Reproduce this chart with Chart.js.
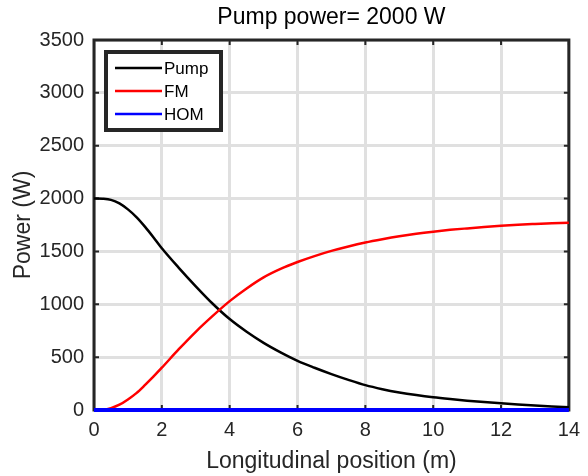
<!DOCTYPE html>
<html>
<head>
<meta charset="utf-8">
<script src="https://cdn.jsdelivr.net/npm/chart.js@4.4.0/dist/chart.umd.min.js"></script>
<style>
  html, body { margin: 0; padding: 0; background: #fff; }
  #wrap { width: 588px; height: 476px; position: relative; }
</style>
</head>
<body>
<div id="wrap"><canvas id="grafico"></canvas></div>
<script>
// posicao longitudinal (m)
var posicao = [0, 0.25, 0.5, 0.75, 1, 1.25, 1.5, 1.75, 2, 2.5, 3, 3.5, 4, 4.5, 5, 5.5, 6, 6.5, 7, 7.5, 8, 8.5, 9, 9.5, 10, 10.5, 11, 11.5, 12, 12.5, 13, 13.5, 14];
var pump = [2000, 1998, 1988, 1955, 1898, 1825, 1735, 1635, 1530, 1345, 1170, 1005, 860, 740, 635, 545, 465, 400, 340, 285, 235, 197, 166, 141, 120, 103, 88, 75, 63, 52, 42, 33, 25];
var fm = [0, 3, 18, 50, 100, 160, 235, 315, 400, 575, 740, 890, 1030, 1150, 1255, 1335, 1400, 1456, 1505, 1547, 1584, 1615, 1643, 1667, 1687, 1704, 1718, 1731, 1743, 1753, 1760, 1766, 1772];
var hom = [0, 0, 0, 0, 0, 0, 0, 0, 0, 0, 0, 0, 0, 0, 0, 0, 0, 0, 0, 0, 0, 0, 0, 0, 0, 0, 0, 0, 0, 0, 0, 0, 0];
var nomes = ["Pump", "FM", "HOM"];
var cores = ["#000000", "#ff0000", "#0000ff"];
var titulo = "Pump power= 2000 W";

function pontos(ys) {
  var out = [];
  for (var i = 0; i < posicao.length; i++) {
    out.push({ x: posicao[i], y: ys[i] });
  }
  return out;
}

var escuro = "#262626";
var fonte = "'Liberation Sans', Arial, sans-serif";

// caixa dos eixos, ticks para dentro, titulo e legenda no estilo matlab
var estiloMatlab = {
  id: "estiloMatlab",
  beforeDatasetsDraw(chart) {
    var ctx = chart.ctx;
    var a = chart.chartArea;
    var sx = chart.scales.x, sy = chart.scales.y;
    ctx.save();
    ctx.strokeStyle = escuro;
    ctx.lineWidth = 2;
    sx.ticks.forEach(function (t) {
      var px = sx.getPixelForValue(t.value);
      ctx.beginPath();
      ctx.moveTo(px, a.bottom); ctx.lineTo(px, a.bottom - 5);
      ctx.moveTo(px, a.top); ctx.lineTo(px, a.top + 5);
      ctx.stroke();
    });
    sy.ticks.forEach(function (t) {
      var py = sy.getPixelForValue(t.value);
      ctx.beginPath();
      ctx.moveTo(a.left, py); ctx.lineTo(a.left + 5, py);
      ctx.moveTo(a.right, py); ctx.lineTo(a.right - 5, py);
      ctx.stroke();
    });
    ctx.lineWidth = 3;
    ctx.strokeRect(a.left, a.top, a.right - a.left, a.bottom - a.top);
    ctx.restore();
  },
  afterDraw(chart) {
    var ctx = chart.ctx;
    var a = chart.chartArea;
    ctx.save();
    ctx.fillStyle = "#000";
    ctx.font = "23px " + fonte;
    ctx.textAlign = "center";
    ctx.textBaseline = "middle";
    ctx.fillText(titulo, (a.left + a.right) / 2, 18);

    // legenda
    var lx = a.left + 12, ly = a.top + 12, lw = 115, lh = 78;
    ctx.fillStyle = "#fff";
    ctx.fillRect(lx, ly, lw, lh);
    ctx.strokeStyle = escuro;
    ctx.lineWidth = 4;
    ctx.strokeRect(lx, ly, lw, lh);
    ctx.font = "17px " + fonte;
    ctx.textAlign = "left";
    chart.data.datasets.forEach(function (ds, i) {
      var y = ly + 16 + i * 23;
      ctx.strokeStyle = ds.borderColor;
      ctx.lineWidth = 2.5;
      ctx.beginPath();
      ctx.moveTo(lx + 9, y); ctx.lineTo(lx + 56, y);
      ctx.stroke();
      ctx.fillStyle = "#000";
      ctx.fillText(ds.label, lx + 58, y + 1);
    });
    ctx.restore();
  }
};

var datasets = [];
var series = [pump, fm, hom];
for (var i = 0; i < series.length; i++) {
  datasets.push({
    label: nomes[i],
    data: pontos(series[i]),
    borderColor: cores[i],
    backgroundColor: cores[i],
    borderWidth: i == 2 ? 4 : 2.5,
    pointRadius: 0,
    cubicInterpolationMode: "monotone",
    clip: 6,
    order: 3 - i
  });
}

var config = {
  type: "line",
  data: { datasets: datasets },
  plugins: [estiloMatlab],
  options: {
    responsive: true,
    maintainAspectRatio: false,
    animation: false,
    layout: { padding: { top: 40, right: 14, left: 0, bottom: 0 } },
    plugins: {
      legend: { display: false },
      title: { display: false },
      tooltip: { enabled: false }
    },
    scales: {
      x: {
        type: "linear",
        min: 0,
        max: 14,
        ticks: { stepSize: 2, color: escuro, padding: 8, font: { family: fonte, size: 20 }, callback: function (v) { return String(v); } },
        grid: { color: "#e0e0e0", lineWidth: 3, drawTicks: false },
        border: { display: false },
        title: { display: true, text: "Longitudinal position (m)", color: escuro, padding: { top: 0, bottom: 1 }, font: { family: fonte, size: 23 } },
        afterFit: function (s) { s.height = 66; }
      },
      y: {
        min: 0,
        max: 3500,
        ticks: { stepSize: 500, color: escuro, padding: 10, font: { family: fonte, size: 20 }, callback: function (v) { return String(v); } },
        grid: { color: "#e0e0e0", lineWidth: 3, drawTicks: false },
        border: { display: false },
        title: { display: true, text: "Power (W)", color: escuro, padding: { top: 10, bottom: 0 }, font: { family: fonte, size: 23 } },
        afterFit: function (s) { s.width = 94; }
      }
    }
  }
};

new Chart(document.getElementById("grafico"), config);
</script>
</body>
</html>
